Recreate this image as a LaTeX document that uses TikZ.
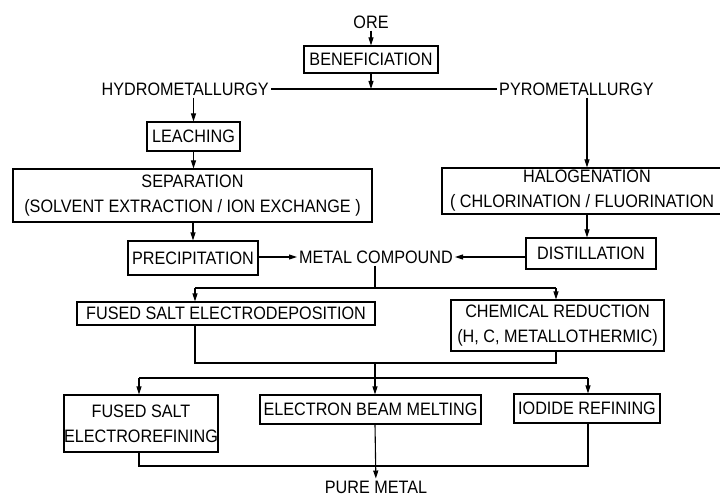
\documentclass[tikz,border=0pt]{standalone}
\usepackage{fontspec}
\setmainfont{Liberation Sans}[FakeStretch=0.9]
\usetikzlibrary{arrows.meta}

\begin{document}
\begin{tikzpicture}[x=1pt,y=-1pt,font=\fontsize{18}{25}\selectfont]
\tikzstyle{box}=[draw, line width=1.1pt, inner sep=0pt, align=center]
\tikzstyle{word}=[inner sep=2pt]
\tikzstyle{wire}=[line width=1.1pt]
\tikzstyle{flow}=[line width=1.1pt, -{Triangle[length=8pt,width=5pt]}]

\useasboundingbox (0,0) rectangle (720,497);
\clip (0,0) rectangle (720,497);

\node[word] (ore) at (371,22) {ORE};
\node[box, minimum width=134pt, minimum height=27pt] (bene) at (371,59.5) {BENEFICIATION};
\coordinate (split) at (371,89);
\node[word, anchor=east] (hydro) at (271,89) {HYDROMETALLURGY};
\node[word, anchor=west] (pyro) at (497,89) {PYROMETALLURGY};

\node[box, minimum width=93pt, minimum height=29pt] (leach) at (193.5,136.5) {LEACHING};
\node[box, minimum width=359pt, minimum height=53pt] (sep) at (192.5,195.5) {SEPARATION\\(SOLVENT EXTRACTION / ION EXCHANGE )};
\node[box, minimum width=290pt, minimum height=46pt] (halo) at (587,191) {HALOGENATION\\( CHLORINATION / FLUORINATION\phantom{ )}};
\node[box, minimum width=130pt, minimum height=34pt] (precip) at (193,258) {PRECIPITATION};
\node[box, minimum width=130pt, minimum height=31pt] (distil) at (591,253.5) {DISTILLATION};
\node[word] (metal) at (376,257) {METAL COMPOUND};

\node[box, minimum width=298pt, minimum height=23pt] (fsed) at (226,313.5) {FUSED SALT ELECTRODEPOSITION};
\node[box, minimum width=213pt, minimum height=51pt] (chem) at (557.5,325.5) {CHEMICAL REDUCTION\\(H, C, METALLOTHERMIC)};

\node[box, minimum width=154pt, minimum height=57pt] (fser) at (141,423.5) {FUSED SALT\\ELECTROREFINING};
\node[box, minimum width=221pt, minimum height=29pt] (ebm) at (370.5,409.5) {ELECTRON BEAM MELTING};
\node[box, minimum width=146pt, minimum height=29pt] (iodide) at (587,408.5) {IODIDE REFINING};
\node[word] (pure) at (376,487) {PURE METAL};

\coordinate (a1) at (195,288);
\coordinate (a2) at (556,288);
\coordinate (b1) at (195,363);
\coordinate (b2) at (556,363);
\coordinate (c1) at (139,378);
\coordinate (c2) at (588,378);
\coordinate (cm) at (375,378);
\coordinate (d1) at (139,466);
\coordinate (d2) at (588,466);

\path[flow]
(ore) edge (bene)
(bene) edge (split)
(leach |- hydro.south) edge (leach)
(leach) edge (leach |- sep.north)
(sep.south -| precip) edge (precip)
(pyro.south -| 587,0) edge (587,0 |- halo.north)
(halo.south) edge (halo.south |- distil.north)
(precip.east |- metal) edge (metal)
(distil.west |- metal) edge (metal);

\draw[wire] (hydro) -- (pyro);
\draw[wire] (metal.south -| cm) -- (cm |- a1);
\draw[wire] (a1) -- (a2);
\draw[flow] (a1) -- (a1 |- fsed.north);
\draw[flow] (a2) -- (a2 |- chem.north);

\draw[wire] (b1 |- fsed.south) -- (b1) -- (b2) -- (b2 |- chem.south);
\draw[wire] (c1) -- (c2);
\draw[flow] (cm |- b1) -- (cm |- ebm.north);
\draw[flow] (c1) -- (c1 |- fser.north);
\draw[flow] (c2) -- (c2 |- iodide.north);

\draw[wire] (d1 |- fser.south) -- (d1) -- (d2) -- (d2 |- iodide.south);
\draw[flow] (cm |- ebm.south) -- (pure);
\end{tikzpicture}
\end{document}
